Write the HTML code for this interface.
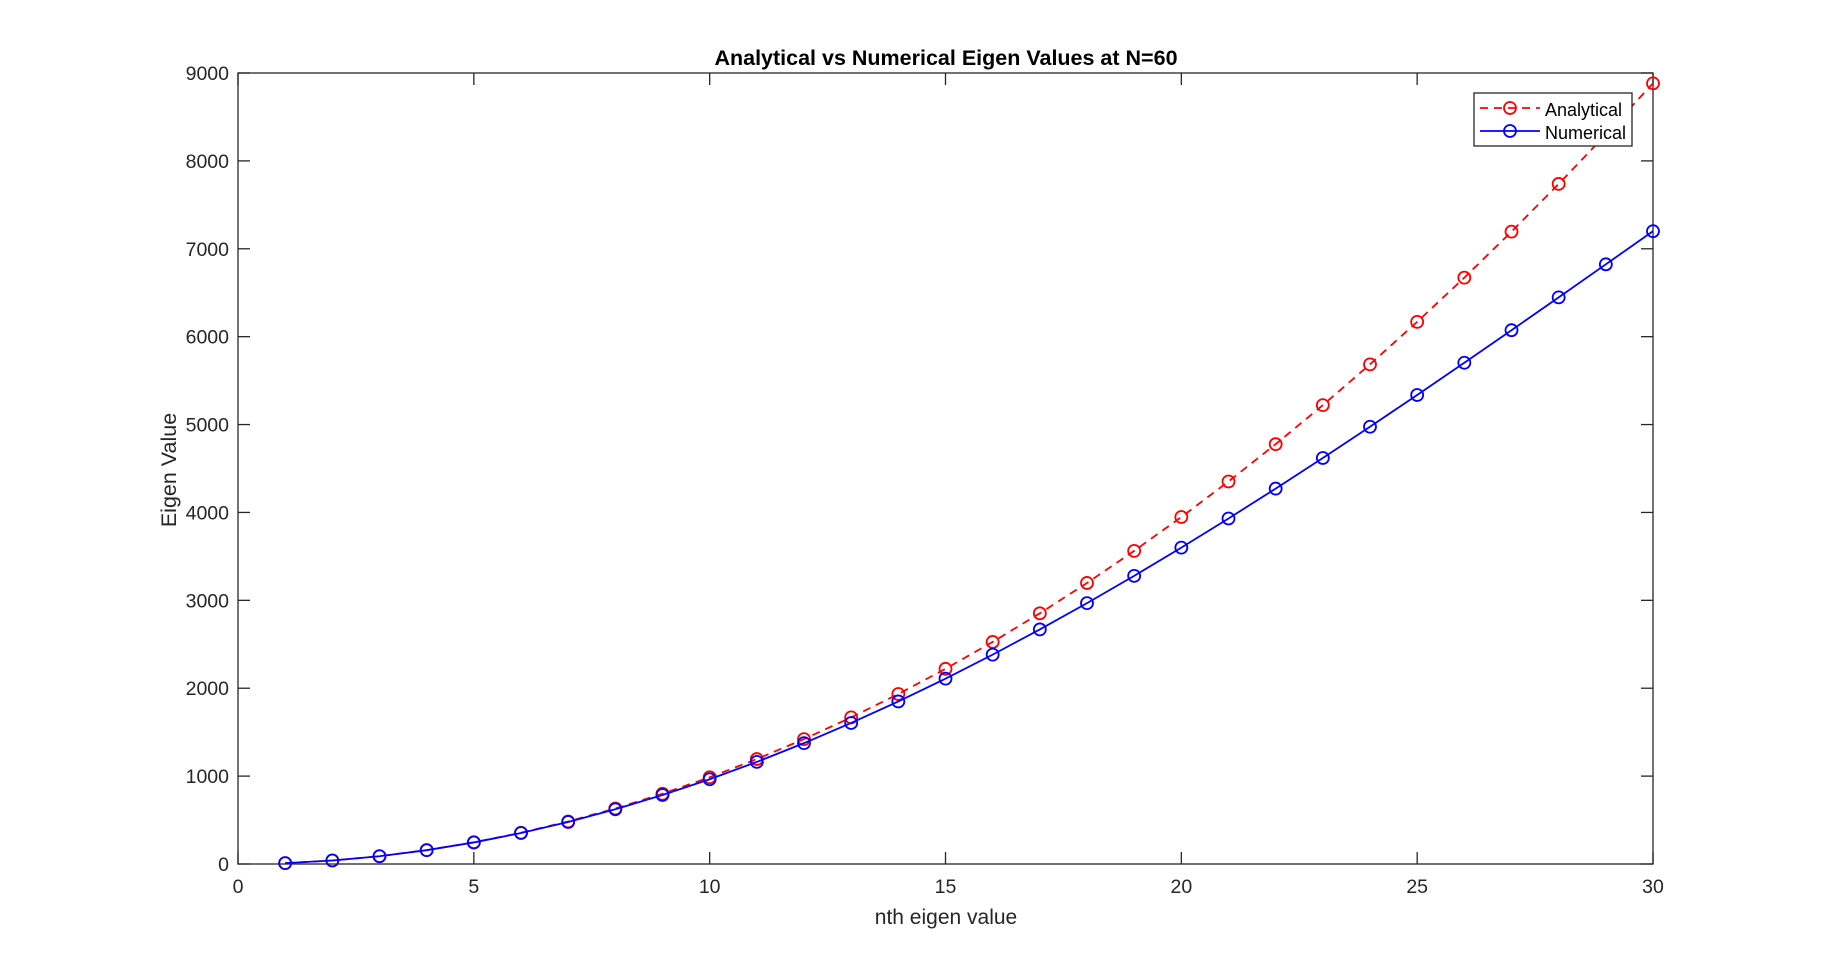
<!DOCTYPE html>
<html><head><meta charset="utf-8"><style>
html,body{margin:0;padding:0;background:#fff;}
svg{display:block;font-family:"Liberation Sans",Arial,sans-serif;}
</style></head><body>
<svg id="chart" width="1825" height="969" viewBox="0 0 1825 969">
<rect width="1825" height="969" fill="#fff"/>
<g id="axes"></g>
<g id="series"></g>
<text x="946" y="65" text-anchor="middle" font-size="21.5" font-weight="bold">Analytical vs Numerical Eigen Values at N=60</text>
<text x="946" y="924" text-anchor="middle" font-size="21" fill="#262626">nth eigen value</text>
<text transform="translate(176,470) rotate(-90)" text-anchor="middle" font-size="21.5" fill="#262626">Eigen Value</text>
<g>
<rect x="1474" y="93" width="158" height="53" fill="#fff" stroke="#262626" stroke-width="1.3"/>
<g>
<line x1="1480" y1="108" x2="1540" y2="108" stroke="#f00" stroke-width="1.8" stroke-dasharray="8,6"/>
<circle cx="1510" cy="108" r="6" fill="none" stroke="#f00" stroke-width="1.8"/>
<text x="1545" y="116" font-size="18">Analytical</text>
</g>
<g>
<line x1="1480" y1="131" x2="1540" y2="131" stroke="#00f" stroke-width="1.8"/>
<circle cx="1510" cy="131" r="6" fill="none" stroke="#00f" stroke-width="1.8"/>
<text x="1545" y="139" font-size="18">Numerical</text>
</g>
</g>
</svg>
<script>
const categories = [1,2,3,4,5,6,7,8,9,10,11,12,13,14,15,16,17,18,19,20,21,22,23,24,25,26,27,28,29,30];
const analyticalValues = [9.9,39.5,88.8,157.9,246.7,355.3,483.6,631.7,799.4,987.0,1194.2,1421.2,1668.0,1934.4,2220.7,2526.6,2852.3,3197.8,3562.9,3947.8,4352.5,4776.9,5221.0,5684.9,6168.5,6671.8,7194.9,7737.8,8300.3,8882.6];
const numericalValues = [9.9,39.4,88.6,157.3,245.3,352.4,478.2,622.5,784.7,964.6,1161.6,1375.1,1604.5,1849.4,2108.8,2382.3,2668.9,2968.0,3278.6,3600.0,3931.3,4271.5,4619.7,4975.1,5336.5,5703.0,6073.6,6447.4,6823.2,7200.0];
const xTicks = [0,5,10,15,20,25,30];
const yTicks = [0,1000,2000,3000,4000,5000,6000,7000,8000,9000];

const L=238,R=1653,T=73,B=864;
const xMin=0,xMax=30,yMin=0,yMax=9000;
function xs(v){return L+(v-xMin)/(xMax-xMin)*(R-L);}
function ys(v){return B-(v-yMin)/(yMax-yMin)*(B-T);}
const NS="http://www.w3.org/2000/svg";
function mk(tag,attrs,parent){const e=document.createElementNS(NS,tag);for(const k in attrs)e.setAttribute(k,attrs[k]);parent.appendChild(e);return e;}
const axes=document.getElementById('axes');
const box=mk('rect',{x:L,y:T,width:R-L,height:B-T,fill:'none',stroke:'#262626','stroke-width':1.3},axes);


xTicks.forEach(t=>{
  const x=xs(t);
  const g=mk('g',{},axes);
  
  
  mk('line',{x1:x,y1:B,x2:x,y2:B-12,stroke:'#262626','stroke-width':1.3},g);
  mk('line',{x1:x,y1:T,x2:x,y2:T+12,stroke:'#262626','stroke-width':1.3},g);
  const tx=mk('text',{x:x,y:B+29,'text-anchor':'middle','font-size':19.5,fill:'#262626'},g);
  tx.textContent=t;
});
yTicks.forEach(t=>{
  const y=ys(t);
  const g=mk('g',{},axes);
  
  
  mk('line',{x1:L,y1:y,x2:L+12,y2:y,stroke:'#262626','stroke-width':1.3},g);
  mk('line',{x1:R,y1:y,x2:R-12,y2:y,stroke:'#262626','stroke-width':1.3},g);
  const tx=mk('text',{x:229,y:y+7,'text-anchor':'end','font-size':19.5,fill:'#262626'},g);
  tx.textContent=t;
});
const series=document.getElementById('series');
function drawSeries(vals,color,dash,name){
  const g=mk('g',{},series);
  
  
  const pts=categories.map((c,i)=>xs(c)+','+ys(vals[i])).join(' ');
  const attrs={points:pts,fill:'none',stroke:color,'stroke-width':1.8};
  if(dash)attrs['stroke-dasharray']=dash;
  const pl=mk('polyline',attrs,g);
  
  
  categories.forEach((c,i)=>{
    const m=mk('circle',{cx:xs(c),cy:ys(vals[i]),r:6,fill:'none',stroke:color,'stroke-width':1.8},g);
    
    
  });
}
drawSeries(analyticalValues,'#f00','8,6','analytical-series');
drawSeries(numericalValues,'#00f',null,'numerical-series');
</script>
</body></html>
